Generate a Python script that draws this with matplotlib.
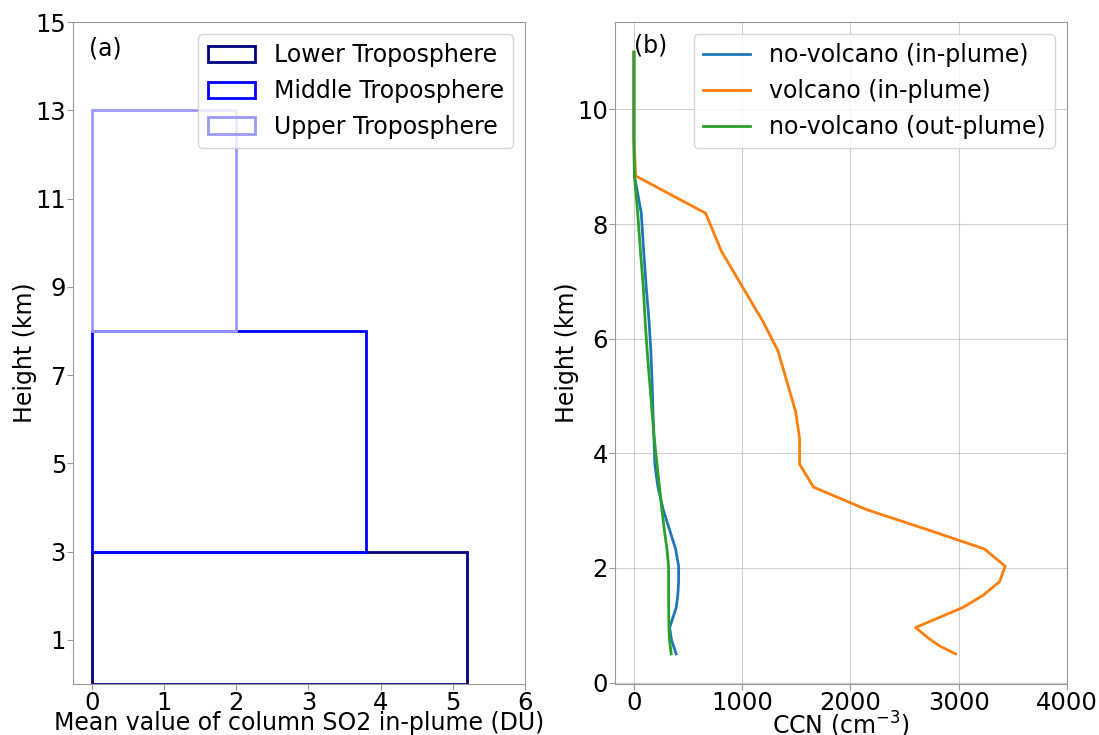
import matplotlib
matplotlib.use("Agg")
import matplotlib.pyplot as plt

# panel (a): SO2 column by layer
layer_names = ["Lower Troposphere", "Middle Troposphere", "Upper Troposphere"]
layer_bottom = [0, 3, 8]
layer_top = [3, 8, 13]
layer_so2 = [5.2, 3.8, 2.0]
layer_colors = ["navy", "blue", "#9999ff"]

# panel (b): CCN profiles
height = [0.5, 0.64, 0.76, 0.96, 1.31, 1.52, 1.76, 2.03, 2.33, 2.63, 3.02,
          3.41, 3.81, 4.26, 4.73, 5.25, 5.79, 6.30, 6.89, 7.53, 8.19, 8.84,
          9.5, 10.2, 11.0]
ccn_novolc_in = [390, 365, 345, 330, 391, 405, 413, 413, 385, 335, 270,
                 222, 193, 185, 176, 168, 156, 140, 114, 90, 68, 5,
                 0, 0, 0]
ccn_volc_in = [2970, 2822, 2730, 2601, 3038, 3223, 3377, 3429, 3238, 2770, 2146,
               1659, 1530, 1530, 1493, 1413, 1330, 1192, 1007, 807, 662, 16,
               0, 0, 0]
ccn_novolc_out = [345, 335, 328, 323, 321, 320, 320, 320, 305, 283, 258,
                  236, 213, 188, 167, 145, 122, 104, 87, 60, 35, 5,
                  0, 0, 0]

TICK_FS = 17.5
LABEL_FS = 17
LEG_FS = 17

fig, (ax1, ax2) = plt.subplots(1, 2, figsize=(10.99, 7.35), dpi=100)
fig.subplots_adjust(left=0.0664, right=0.9709, top=0.970, bottom=0.0694,
                    wspace=0.199)

# --- (a) ---
for name, b, t, v, c in zip(layer_names, layer_bottom, layer_top,
                            layer_so2, layer_colors):
    ax1.barh(b, v, height=t - b, left=0, align="edge", fill=False,
             edgecolor=c, linewidth=2, label=name)
ax1.set_xlim(-0.26, 6)
ax1.set_ylim(0, 15)
ax1.set_yticks([1, 3, 5, 7, 9, 11, 13, 15])
ax1.set_xticks([0, 1, 2, 3, 4, 5, 6])
ax1.set_xlabel("Mean value of column SO2 in-plume (DU)", fontsize=LABEL_FS,
               labelpad=-3)
ax1.set_ylabel("Height (km)", fontsize=LABEL_FS, labelpad=-1)
ax1.text(-0.04, 14.25, "(a)", fontsize=LEG_FS)
ax1.legend(loc="upper right", fontsize=LEG_FS)

# --- (b) ---
ax2.plot(ccn_novolc_in, height, linewidth=2, label="no-volcano (in-plume)")
ax2.plot(ccn_volc_in, height, linewidth=2, label="volcano (in-plume)")
ax2.plot(ccn_novolc_out, height, linewidth=2, label="no-volcano (out-plume)")
ax2.set_xlim(-175, 4000)
ax2.set_xticks([0, 1000, 2000, 3000, 4000])
ax2.set_xlabel("CCN (cm$^{-3}$)", fontsize=LABEL_FS, labelpad=-4)
ax2.set_ylabel("Height (km)", fontsize=LABEL_FS, labelpad=-1)
ax2.text(0, 11.0, "(b)", fontsize=LEG_FS)
ax2.grid(True, alpha=0.6)
ax2.legend(loc="upper right", fontsize=LEG_FS)

for ax in (ax1, ax2):
    ax.tick_params(labelsize=TICK_FS, pad=1, length=4, color="#999999")
    for s in ax.spines.values():
        s.set_color("#999999")

fig.savefig("out.png", dpi=100)
